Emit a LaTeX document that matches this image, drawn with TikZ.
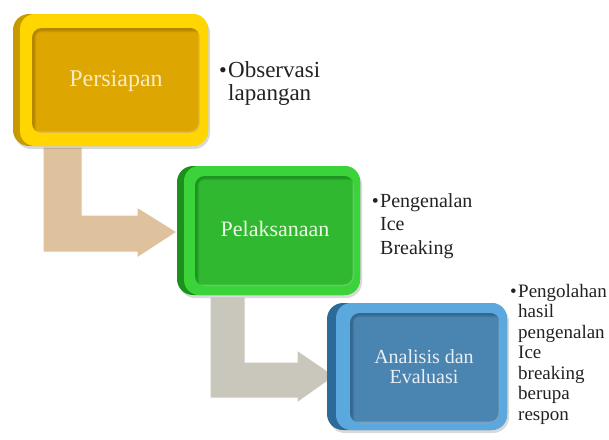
\documentclass[tikz,border=0pt]{standalone}
\usepackage{fontspec}
\setmainfont{Liberation Serif}
\usetikzlibrary{shadows}
\definecolor{ySide}{HTML}{C99A00}
\definecolor{yRim}{HTML}{FFD600}
\definecolor{yFace}{HTML}{DDA600}
\definecolor{yEdge}{HTML}{9A7000}
\definecolor{yText}{HTML}{FBEBC4}
\definecolor{gSide}{HTML}{1C8F1C}
\definecolor{gRim}{HTML}{3AD43A}
\definecolor{gFace}{HTML}{30B830}
\definecolor{gEdge}{HTML}{157A1A}
\definecolor{gText}{HTML}{ECF8E6}
\definecolor{bSide}{HTML}{2C6B99}
\definecolor{bRim}{HTML}{5AA8DD}
\definecolor{bFace}{HTML}{4A84B0}
\definecolor{bEdge}{HTML}{28557A}
\definecolor{bText}{HTML}{E8F0F6}
\definecolor{arrowA}{HTML}{DEC29E}
\definecolor{arrowB}{HTML}{C9C7BB}
\definecolor{txt}{HTML}{222222}
\tikzset{
  sidepart/.style={rounded corners=16pt, drop shadow={opacity=0.3, shadow xshift=2pt, shadow yshift=-3pt}},
  rimpart/.style={rounded corners=15pt},
  facepart/.style={rounded corners=10pt},
  boxtext/.style={inner sep=0pt, align=center},
  bullettext/.style={inner sep=0pt, anchor=north west, align=left, text=txt},
  bulletdot/.style={inner sep=0pt, anchor=base east, text=txt},
  flowarrow/.style={draw=white, line width=1pt, line join=miter}
}
\newcommand\BevelFace[6]{%
  \begin{scope}
    \clip[facepart] (#1,#2) rectangle (#3,#4);
    \fill[#5] (#1,#2) rectangle (#3,#4);
    \draw[#6, opacity=0.25, line width=10pt, facepart] (#1-1,#2-1) rectangle (#3+20,#4+20);
    \draw[#6, opacity=0.45, line width=5pt, facepart] (#1,#2) rectangle (#3+20,#4+20);
    \draw[white, opacity=0.25, line width=3pt, facepart] (#1-20,#2-20) rectangle (#3,#4);
  \end{scope}}
\begin{document}
\begin{tikzpicture}[x=1pt, y=-1pt]
\useasboundingbox (0,0) rectangle (609,439);
% arrows
\fill[arrowA, flowarrow] (43,147) -- (82,147) -- (82,215) -- (137,215) -- (137,207) -- (177,232) -- (137,258) -- (137,252) -- (43,252) -- cycle;
\fill[arrowB, flowarrow] (210,297) -- (245,297) -- (245,362) -- (297,362) -- (297,350) -- (335,376) -- (297,403) -- (297,398) -- (210,398) -- cycle;
% box 1
\fill[ySide, sidepart] (13,14) rectangle (208,146);
\fill[yRim, rimpart] (20,14) rectangle (208,146);
\BevelFace{32}{28}{200}{133}{yFace}{yEdge}
\node[boxtext, text=yText, font={\fontsize{24}{26}\selectfont}] (p1) at (116,81) {Persiapan};
% box 2
\fill[gSide, sidepart] (177,166) rectangle (360,295);
\fill[gRim, rimpart] (184,166) rectangle (360,295);
\BevelFace{195}{176}{354}{286}{gFace}{gEdge}
\node[boxtext, text=gText, font={\fontsize{22}{24}\selectfont}] (p2) at (275,229) {Pelaksanaan};
% box 3
\fill[bSide, sidepart] (327,303) rectangle (507,430);
\fill[bRim, rimpart] (336,303) rectangle (507,430);
\BevelFace{350}{313}{500}{423}{bFace}{bEdge}
\node[boxtext, text=bText, font={\fontsize{20}{20}\selectfont}] (p3) at (424,367) {Analisis dan\\Evaluasi};
% bullet texts
\node[bullettext, font={\fontsize{23}{23}\selectfont}] (t1) at (228,61) {Observasi\\lapangan};
\node[bulletdot, font={\fontsize{22}{23}\selectfont}] (d1) at ([xshift=-1pt]t1.north west |- 0,77) {•};
\node[bullettext, font={\fontsize{20}{23.5}\selectfont}] (t2) at (380,193) {Pengenalan\\Ice\\Breaking};
\node[bulletdot, font={\fontsize{20}{23}\selectfont}] (d2) at ([xshift=-1pt]t2.north west |- 0,207) {•};
\node[bullettext, font={\fontsize{19}{20.5}\selectfont}] (t3) at (518,284) {Pengolahan\\hasil\\pengenalan\\Ice\\breaking\\berupa\\respon};
\node[bulletdot, font={\fontsize{19}{20}\selectfont}] (d3) at ([xshift=-1pt]t3.north west |- 0,297) {•};
\end{tikzpicture}
\end{document}
